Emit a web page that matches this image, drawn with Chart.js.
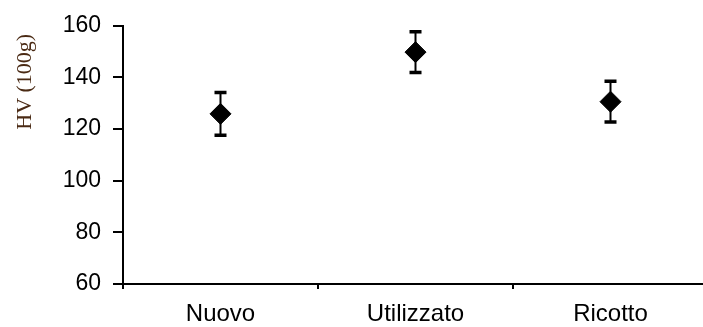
<!DOCTYPE html>
<html>
<head>
<meta charset="utf-8">
<script src="https://cdn.jsdelivr.net/npm/chart.js@4"></script>
<style>
  html, body { margin: 0; padding: 0; background: #fff; overflow: hidden; }
  canvas { display: block; }
</style>
</head>
<body>
<canvas id="hvChart" width="708" height="327"></canvas>
<script>
const categories = ['Nuovo', 'Utilizzato', 'Ricotto'];
const hvMean = [125.9, 149.8, 130.6];
const hvErr = [8.3, 7.9, 7.9];
const yTicks = [60, 80, 100, 120, 140, 160];
const yTitle = 'HV (100g)';

// draws the vertical error bars with caps, before the diamonds go on top
const errorBars = {
  id: 'errorBars',
  beforeDatasetsDraw(chart) {
    const ctx = chart.ctx;
    const xs = chart.scales.x;
    const ys = chart.scales.y;
    ctx.save();
    ctx.strokeStyle = '#000';
    hvMean.forEach(function(v, i) {
      const x = xs.getPixelForValue(i);
      const top = ys.getPixelForValue(v + hvErr[i]);
      const bot = ys.getPixelForValue(v - hvErr[i]);
      ctx.lineWidth = 2;
      ctx.beginPath();
      ctx.moveTo(x, top);
      ctx.lineTo(x, bot);
      ctx.stroke();
      ctx.lineWidth = 3.5;
      ctx.beginPath();
      ctx.moveTo(x - 6, top);
      ctx.lineTo(x + 6, top);
      ctx.moveTo(x - 6, bot);
      ctx.lineTo(x + 6, bot);
      ctx.stroke();
    });
    ctx.restore();
  }
};

// y title sits near the top of the axis, a bit below the 160 line
const sideTitle = {
  id: 'sideTitle',
  afterDraw(chart) {
    const ctx = chart.ctx;
    const ys = chart.scales.y;
    ctx.save();
    ctx.translate(25, ys.top + 8);
    ctx.rotate(-Math.PI / 2);
    ctx.font = '22px "Liberation Serif", "Times New Roman", serif';
    ctx.fillStyle = '#4a2a14';
    ctx.textAlign = 'right';
    ctx.textBaseline = 'middle';
    ctx.fillText(yTitle, 0, 0);
    ctx.restore();
  }
};

const ctx = document.getElementById('hvChart').getContext('2d');
new Chart(ctx, {
  type: 'line',
  data: {
    labels: categories,
    datasets: [{
      data: hvMean,
      showLine: false,
      pointStyle: 'rectRot',
      pointRadius: 10.5,
      pointHoverRadius: 10.5,
      pointBackgroundColor: '#000',
      pointBorderColor: '#000',
      pointBorderWidth: 1
    }]
  },
  options: {
    responsive: false,
    animation: false,
    events: [],
    layout: { autoPadding: false, padding: { top: 24, right: 0, bottom: 0, left: 0 } },
    plugins: {
      legend: { display: false },
      tooltip: { enabled: false }
    },
    scales: {
      x: {
        type: 'category',
        offset: true,
        grid: {
          offset: true,
          drawOnChartArea: false,
          tickLength: 5,
          color: '#000',
          lineWidth: 2
        },
        border: { display: true, color: '#000', width: 2 },
        ticks: {
          color: '#000',
          padding: 11,
          autoSkip: false,
          maxRotation: 0,
          font: { family: 'Liberation Sans, Arial, sans-serif', size: 24 }
        },
        afterFit(scale) {
          scale.height = 43;
          scale.paddingLeft = 0;
          scale.paddingRight = 0;
        }
      },
      y: {
        min: 60,
        max: 160,
        afterBuildTicks(scale) { scale.ticks = yTicks.map(v => ({ value: v })); },
        grid: {
          drawOnChartArea: false,
          tickLength: 10,
          color: '#000',
          lineWidth: 2
        },
        border: { display: true, color: '#000', width: 2 },
        ticks: {
          color: '#000',
          padding: 12,
          autoSkip: false,
          font: { family: 'Liberation Sans, Arial, sans-serif', size: 23 }
        },
        afterFit(scale) { scale.width = 123; }
      }
    }
  },
  plugins: [errorBars, sideTitle]
});
</script>
</body>
</html>
